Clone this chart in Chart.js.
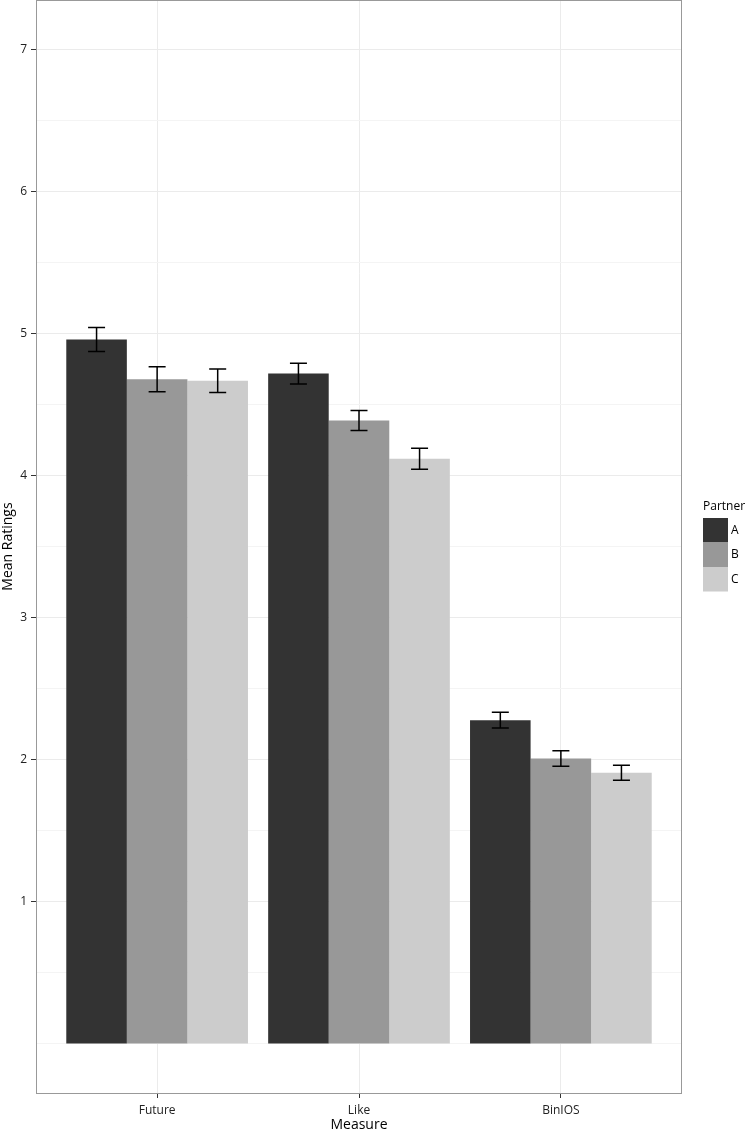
<!DOCTYPE html>
<html>
<head>
<meta charset="utf-8">
<script src="https://cdn.jsdelivr.net/npm/chart.js@4/dist/chart.umd.min.js"></script>
<style>
  html, body { margin: 0; padding: 0; background: #fff; }
</style>
</head>
<body>
<canvas id="chart" width="747" height="1133"></canvas>
<script>
// data
const categories = ['Future', 'Like', 'BinIOS'];
const partners = ['A', 'B', 'C'];
const meanA = [4.96, 4.72, 2.28];
const meanB = [4.68, 4.39, 2.01];
const meanC = [4.67, 4.12, 1.91];
const seA = [0.085, 0.073, 0.055];
const seB = [0.088, 0.070, 0.054];
const seC = [0.083, 0.074, 0.053];
const yBreaks = [1, 2, 3, 4, 5, 6, 7];
const yMinor = [0, 0.5, 1.5, 2.5, 3.5, 4.5, 5.5, 6.5];

const colors = ['#333333', '#989898', '#cccccc'];
const means = [meanA, meanB, meanC];
const errs = [seA, seB, seC];
const font = '"Open Sans", "DejaVu Sans", sans-serif';

// error bars drawn on top of the bars
const errorBars = {
    id: 'errorBars',
    afterDatasetsDraw(chart) {
        const ctx = chart.ctx;
        const y = chart.scales.y;
        ctx.save();
        ctx.strokeStyle = '#000';
        ctx.lineWidth = 1.5;
        chart.data.datasets.forEach((ds, i) => {
            const meta = chart.getDatasetMeta(i);
            meta.data.forEach((bar, j) => {
                const v = means[i][j], e = errs[i][j];
                const top = y.getPixelForValue(v + e);
                const bot = y.getPixelForValue(v - e);
                const x = bar.x;
                ctx.beginPath();
                ctx.moveTo(x, top); ctx.lineTo(x, bot);
                ctx.moveTo(x - 8.5, top); ctx.lineTo(x + 8.5, top);
                ctx.moveTo(x - 8.5, bot); ctx.lineTo(x + 8.5, bot);
                ctx.stroke();
            });
        });
        ctx.restore();
    }
};

// panel border + legend like ggplot
const panelAndLegend = {
    id: 'panelAndLegend',
    afterDraw(chart) {
        const ctx = chart.ctx;
        const a = chart.chartArea;
        ctx.save();
        ctx.strokeStyle = '#999';
        ctx.lineWidth = 1;
        ctx.strokeRect(Math.round(a.left) + 0.5, Math.round(a.top) + 0.5,
            Math.round(a.right - a.left) - 1, Math.round(a.bottom - a.top));

        ctx.fillStyle = '#000';
        ctx.font = '12px ' + font;
        ctx.textBaseline = 'middle';
        ctx.textAlign = 'left';
        ctx.fillText('Partner', 703, 507);
        chart.data.datasets.forEach((ds, i) => {
            const top = 518 + i * 24.5;
            ctx.fillStyle = ds.backgroundColor;
            ctx.fillRect(703, top, 25, 24.5);
            ctx.fillStyle = '#000';
            ctx.fillText(ds.label, 731, top + 12.5);
        });
        ctx.restore();
    }
};

new Chart(document.getElementById('chart'), {
    type: 'bar',
    data: {
        datasets: partners.map((p, i) => ({
            label: p,
            data: means[i].map((v, j) => ({ x: j + 1, y: v })),
            backgroundColor: colors[i],
            borderWidth: 0,
            categoryPercentage: 0.9,
            barPercentage: 1.0
        }))
    },
    options: {
        responsive: false,
        animation: false,
        layout: { padding: { top: 0, right: 65, left: 0, bottom: 0 } },
        plugins: {
            legend: { display: false },
            tooltip: { enabled: false }
        },
        scales: {
            x: {
                type: 'linear',
                offset: false,
                min: 0.4,
                max: 3.6,
                afterBuildTicks: s => { s.ticks = categories.map((c, i) => ({ value: i + 1 })); },
                afterFit: s => { s.height = 40; s.paddingLeft = 0; s.paddingRight = 0; },
                border: { display: false },
                grid: { offset: false, color: '#ebebeb', tickColor: '#333', tickLength: 5, lineWidth: 1 },
                ticks: {
                    callback: v => categories[v - 1],
                    color: '#222',
                    font: { family: font, size: 12 },
                    padding: 5,
                    maxRotation: 0,
                    autoSkip: false
                },
                title: {
                    display: true,
                    text: 'Measure',
                    color: '#000',
                    font: { family: font, size: 14 },
                    padding: 0
                }
            },
            y: {
                min: -0.345,
                max: 7.35,
                afterBuildTicks: s => {
                    s.ticks = yMinor.concat(yBreaks).sort((a, b) => a - b).map(v => ({ value: v }));
                },
                afterFit: s => { s.width = 36; s.paddingTop = 0; s.paddingBottom = 0; },
                border: { display: false },
                grid: {
                    color: c => yBreaks.includes(c.tick.value) ? '#ebebeb' : '#f4f4f4',
                    tickColor: c => yBreaks.includes(c.tick.value) ? '#333' : 'rgba(0,0,0,0)',
                    tickLength: 5,
                    lineWidth: 1
                },
                ticks: {
                    callback: v => yBreaks.includes(v) ? String(v) : '',
                    color: '#222',
                    font: { family: font, size: 12 },
                    padding: 4,
                    autoSkip: false
                },
                title: {
                    display: true,
                    text: 'Mean Ratings',
                    color: '#000',
                    font: { family: font, size: 14 },
                    padding: 0
                }
            }
        }
    },
    plugins: [errorBars, panelAndLegend]
});
</script>
</body>
</html>
